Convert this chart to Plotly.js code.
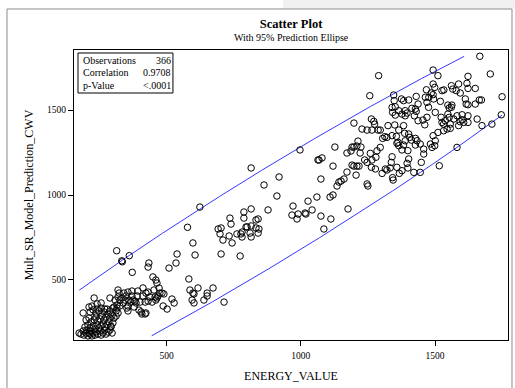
<!DOCTYPE html>
<html><head><meta charset="utf-8">
<script src="https://cdn.plot.ly/plotly-3.0.1.min.js"></script>
<style>html,body{margin:0;padding:0;background:#fff}#chart{width:515px;height:388px}</style>
</head><body><div id="chart"></div>
<script>
// [ENERGY_VALUE, Mult_SR_Model_Prediction_CWV]
const obs = [
[174,188],[181,182],[189,200],[192,176],[200,188],[203,206],[207,171],[215,182],[218,200],[222,171],[226,188],[233,176],[237,194],[244,182],[252,200],[256,176],[263,188],[270,206],[274,182],[282,194],[289,206],[297,188],
[196,224],[207,235],[215,218],[226,229],[233,212],[241,235],[248,218],[256,229],[263,241],[270,224],[278,235],[285,253],[293,229],[300,247],
[200,265],[211,276],[218,253],[230,265],[237,282],[244,259],[252,271],[259,288],[267,265],[274,282],[282,300],[289,276],[297,294],[304,276],[312,288],
[215,312],[226,324],[237,306],[248,318],[256,335],[267,312],[278,329],[289,318],[300,335],[312,318],[319,306],
[222,347],[241,359],[256,365],[270,329],[293,224],[211,188],[189,306],[211,341],[230,394],[289,394],[241,329],
[314,672],[333,613],[335,607],[361,643],[372,545],[341,423],[323,423],[326,382],[334,394],[319,400],[308,382],[304,341],[315,353],[315,335],[326,347],[338,365],[345,382],[356,429],[371,435],[393,435],[371,406],[382,376],[386,365],[401,370],[397,323],[405,312],[420,300],[360,382],[356,347],[352,335],[356,318],[367,370],[379,341],[375,382],[408,300],[423,306],[420,370],[423,423],[431,429],[431,376],[446,370],[453,441],[472,453],[475,423],[483,423],[490,418],[457,400],[464,394],[460,382],[468,406],[487,347],[502,329],[520,388],[528,365],[449,518],[460,500],[464,482],[431,576],[434,600],[509,570],[535,600],[539,653],
[349,406],[390,406],[412,406],[438,400],[319,441],[412,453],
[624,929],[578,810],[598,718],[606,647],[583,506],[587,441],[598,423],[602,418],[595,382],[602,365],[617,453],[639,382],[651,406],[651,423],[673,453],[714,370],
[815,918],[788,900],[788,864],[736,864],[740,829],[841,859],[833,853],[796,812],[800,812],[815,818],[833,806],[844,800],[841,776],[811,776],[815,753],[781,782],[777,771],[762,771],[733,759],[703,806],[692,800],[699,771],[710,735],[744,718],[781,753],[703,653],[774,641],[878,912],
[911,994],[971,935],[1027,964],[1060,988],[1109,988],[967,882],[990,888],[986,859],[1016,894],[1019,888],[1042,912],[1075,876],[1112,859],[1086,800],[1176,918],[815,1159],[863,1059],[919,1106],[997,1265],[1127,1282],[1198,1423],[1064,1206],[1068,1206],[1079,1218],[1075,1094],[1120,1170],[1135,1053],[1142,1076],[1150,1082],[1161,1094],[1172,1135],[1120,1000],[1172,1247],[1187,1259],[1191,1282],[1198,1282],[1209,1288],[1213,1317],[1224,1282],[1221,1247],[1191,1176],[1198,1170],[1209,1170],[1217,1170],[1206,1117],[1247,1065],[1250,1053],
[1667,1816],[1290,1702],[1493,1735],[1511,1702],[1623,1698],[1706,1712],[1257,1584],[1346,1588],[1348,1555],[1375,1565],[1468,1619],[1493,1653],[1499,1633],[1486,1600],[1493,1590],[1477,1575],[1464,1575],[1470,1545],[1495,1565],[1526,1614],[1533,1618],[1561,1643],[1566,1623],[1579,1614],[1588,1653],[1594,1600],[1619,1657],[1623,1627],[1650,1627],[1430,1580],[1437,1535],[1402,1559],[1383,1555],[1520,1551],[1548,1529],[1553,1512],[1563,1529],[1561,1516],[1613,1565],[1616,1535],[1623,1531],[1650,1535],[1665,1559],[1673,1559],[1750,1578],
[1340,1515],[1352,1519],[1342,1486],[1352,1470],[1365,1496],[1377,1476],[1389,1496],[1389,1466],[1396,1482],[1414,1510],[1427,1506],[1430,1492],[1423,1466],[1437,1437],[1455,1441],[1462,1413],[1470,1457],[1476,1516],[1501,1486],[1523,1457],[1526,1427],[1532,1417],[1538,1437],[1548,1476],[1553,1457],[1557,1417],[1570,1447],[1582,1466],[1594,1431],[1601,1443],[1601,1472],[1623,1466],[1623,1427],[1657,1447],[1675,1408],[1712,1417],[1747,1472],
[1228,1388],[1247,1382],[1263,1447],[1272,1433],[1275,1417],[1265,1382],[1288,1382],[1296,1382],[1313,1343],[1321,1339],[1305,1333],[1325,1408],[1350,1412],[1365,1382],[1383,1408],[1387,1363],[1402,1359],[1406,1339],[1412,1323],[1427,1333],[1433,1319],[1427,1294],[1445,1300],[1389,1319],[1383,1294],[1377,1265],[1399,1261],[1402,1212],[1365,1290],[1358,1304],[1340,1349],[1356,1345],[1362,1310],[1296,1280],[1284,1260],[1280,1222],[1259,1245],[1265,1206],[1238,1206],[1247,1192],[1263,1163],[1278,1153],[1340,1225],[1337,1192],[1315,1153],[1303,1127],[1321,1147],[1333,1159],[1358,1163],[1367,1127],[1377,1143],[1396,1186],[1399,1159],[1449,1192],[1458,1241],[1458,1270],[1483,1300],[1493,1349],[1501,1319],[1499,1290],[1489,1280],[1511,1368],[1532,1378],[1545,1388],[1557,1392],[1588,1408],[1607,1427],[1582,1280],[1516,1172],[1421,1133],[1445,1133],[1342,1102],[1344,1088]
];
const energyValue = obs.map(p => p[0]);
const predictionCWV = obs.map(p => p[1]);
const statLabels = ['Observations', 'Correlation', 'p-Value'];
const statValues = ['366', '0.9708', '&lt;.0001'];
const xTickVals = [500, 1000, 1500];
const yTickVals = [500, 1000, 1500];
const ellipseLevel = 0.95;

// 95% prediction ellipse from the sample mean and covariance, clipped to the data extent
const n = energyValue.length;
const mx = energyValue.reduce((a,b)=>a+b,0)/n;
const my = predictionCWV.reduce((a,b)=>a+b,0)/n;
let sxx=0, syy=0, sxy=0;
for (let i=0;i<n;i++){const dx=energyValue[i]-mx, dy=predictionCWV[i]-my; sxx+=dx*dx; syy+=dy*dy; sxy+=dx*dy;}
sxx/=(n-1); syy/=(n-1); sxy/=(n-1);
const m = n-2;
const fq = (m/2)*(Math.pow(1-ellipseLevel, -2/m) - 1);
const c = 2*(n+1)*(n-1)/(n*(n-2))*fq;
const l11 = Math.sqrt(sxx), l21 = sxy/l11, l22 = Math.sqrt(syy - l21*l21);
const xmin = Math.min(...energyValue), xmax = Math.max(...energyValue);
const ymin = Math.min(...predictionCWV), ymax = Math.max(...predictionCWV);
const ex=[], ey=[];
const N = 6000;
for (let k=0;k<=N;k++){
  const t=2*Math.PI*k/N; const u=Math.sqrt(c)*Math.cos(t), v=Math.sqrt(c)*Math.sin(t);
  const px = mx+l11*u, py = my+l21*u+l22*v;
  if (px<xmin||px>xmax||py<ymin||py>ymax){ if (ex.length && ex[ex.length-1]!==null){ex.push(null); ey.push(null);} }
  else { ex.push(px); ey.push(py); }
}

const serif = 'Liberation Serif, Times New Roman, serif';
const traces = [
  {x: ex, y: ey, mode: 'lines', connectgaps: false, line: {color: 'rgb(55,55,255)', width: 1}, hoverinfo: 'skip', showlegend: false},
  {x: energyValue, y: predictionCWV, mode: 'markers', marker: {symbol: 'circle-open', size: 6.5, color: '#000', line: {width: 1, color: '#000'}}, showlegend: false}
];
const rowY = [0.9638, 0.9207, 0.8759];
const annotations = [
  {text: 'With 95% Prediction Ellipse', xref: 'paper', yref: 'paper', x: 0.5, y: 1.0448, xanchor: 'center', yanchor: 'middle', showarrow: false, font: {family: serif, size: 10, color: '#000'}}
];
statLabels.forEach((s,i)=>{
  annotations.push({text: s, xref:'paper', yref:'paper', x:0.0150, y:rowY[i], xanchor:'left', yanchor:'middle', showarrow:false, font:{family:serif,size:10,color:'#000'}});
  annotations.push({text: statValues[i], xref:'paper', yref:'paper', x:0.2270, y:rowY[i], xanchor:'right', yanchor:'middle', showarrow:false, font:{family:serif,size:10,color:'#000'}});
});
const layout = {
  width: 515, height: 388,
  margin: {l: 74, r: 7, t: 50, b: 48},
  paper_bgcolor: '#fff', plot_bgcolor: '#fff',
  font: {family: serif, color: '#000'},
  title: {text: '<b>Scatter Plot</b>', font: {family: serif, size: 12.5, color: '#000'}, xref: 'paper', x: 0.5, xanchor: 'center', yref: 'container', y: 0.938, yanchor: 'middle'},
  xaxis: {range: [155, 1772], tickvals: xTickVals, ticks: 'outside', ticklen: 5, tickcolor: '#000', ticklabelstandoff: 2, showline: true, linecolor: '#000', linewidth: 1, mirror: true, showgrid: false, zeroline: false, tickfont: {family: serif, size: 9.5, color: '#000'}, title: {text: 'ENERGY_VALUE', font: {family: serif, size: 12, color: '#000'}, standoff: 11}},
  yaxis: {range: [147, 1853], tickvals: yTickVals, ticks: 'outside', ticklen: 5, tickcolor: '#000', showline: true, linecolor: '#000', linewidth: 1, mirror: true, showgrid: false, zeroline: false, tickfont: {family: serif, size: 9.5, color: '#000'}, title: {text: 'Mult_SR_Model_Prediction_CWV', font: {family: serif, size: 12, color: '#000'}, standoff: 10}},
  annotations: annotations,
  shapes: [
    {type:'rect', xref:'paper', yref:'paper', x0:0.4816, x1:1.03, y0:1.1431, y1:1.2, fillcolor:'#f0f0f0', line:{width:0}, layer:'below'},
    {type:'rect', xref:'paper', yref:'paper', x0:-0.1544, x1:1.0092, y0:1.1414, y1:-0.3, line:{color:'#8c8c8c', width:1}, fillcolor:'rgba(0,0,0,0)', layer:'below'},
    {type:'rect', xref:'paper', yref:'paper', x0:0.0092, x1:0.228, y0:0.8517, y1:0.9897, line:{color:'#000', width:1}, fillcolor:'#fff'}
  ]
};
Plotly.newPlot('chart', traces, layout, {displayModeBar: false, staticPlot: true});
</script>
</body></html>
